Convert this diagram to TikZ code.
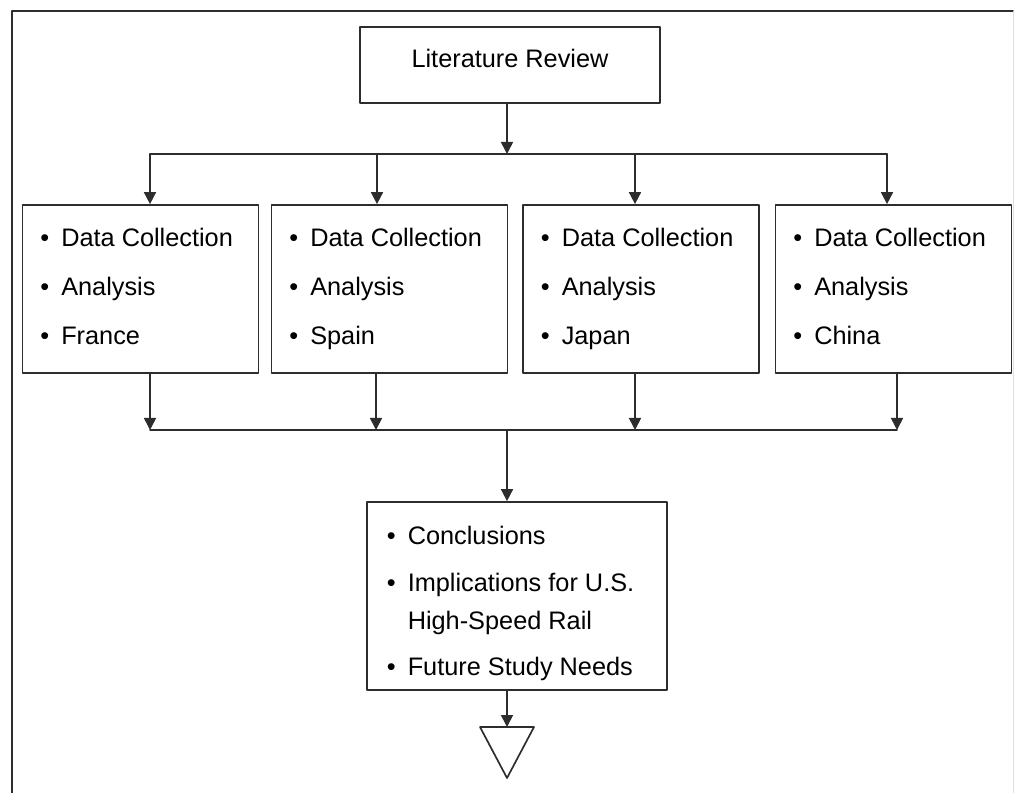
\documentclass[tikz,border=0pt]{standalone}
\usepackage{fontspec}
\setmainfont{Liberation Sans}
\usepackage{tikz}
\usetikzlibrary{arrows.meta, positioning, calc}
\definecolor{lineGray}{RGB}{45,45,45}
\tikzset{every node/.style={font=\fontsize{18}{27}\selectfont}, every path/.style={line cap=round, line join=round}, >={Triangle[length=3mm, width=3mm]}}
\tikzset{
  titlebox/.style={draw=lineGray, line width=1.2pt, minimum width=7.5cm, minimum height=1.9cm, text depth=0.35cm},
  stagebox/.style={draw=lineGray, line width=1.2pt, minimum width=5.9cm, minimum height=4.2cm, inner xsep=0.45cm, text width=5cm, align=flush left},
  sumbox/.style={draw=lineGray, line width=1.2pt, minimum width=7.5cm, minimum height=4.7cm, inner xsep=0.5cm, text width=6.5cm, align=flush left},
  flowline/.style={draw=lineGray, line width=1.2pt},
}
\newcommand{\itm}{\makebox[0.52cm][l]{\textbullet}}

\begin{document}
\begin{tikzpicture}[x=0.025cm, y=-0.025cm]
    \useasboundingbox (0,0) rectangle (1016,793);
    \draw [lineGray, line width=1.4pt] (12,793) -- (12,11) -- (1013,11);
    \draw [gray!25] (1013,11) -- (1013,793);

    \node [titlebox] (lit) at (510,65) {Literature Review};

    \node [stagebox] (b1) at (140.5,289) {\itm Data Collection\\[8pt] \itm Analysis\\[8pt] \itm France\vphantom{p}};
    \node [stagebox] (b2) at (389.5,289) {\itm Data Collection\\[8pt] \itm Analysis\\[8pt] \itm Spain};
    \node [stagebox] (b3) at (641,289) {\itm Data Collection\\[8pt] \itm Analysis\\[8pt] \itm Japan};
    \node [stagebox] (b4) at (893.5,289) {\itm Data Collection\\[8pt] \itm Analysis\\[8pt] \itm China\vphantom{p}};

    \node [sumbox, text height=0.85cm] (sum) at (517,596) {\itm Conclusions\\[6pt] \itm Implications for U.S.\\ \hspace*{0.52cm}High-Speed Rail\\[6pt] \itm Future Study Needs};

    \coordinate (split) at (507,154);
    \coordinate (join) at (507,430);
    \coordinate (tri) at (507,727);

    \draw [flowline, ->] (lit.south -| split) -- (split);
    \draw [flowline] ($(b1.north |- split)+(9.5,0)$) -- ($(b4.north |- split)+(-6.5,0)$);
    \draw [flowline] ($(b1.south |- join)+(9.5,0)$) -- ($(b4.south |- join)+(3.5,0)$);
    \foreach \b/\dt/\db in {b1/9.5/9.5, b2/-12.5/-13.5, b3/-6/-6, b4/-6.5/3.5} {
        \draw [flowline, ->] ($(\b.north |- split)+(\dt,0)$) -- ($(\b.north)+(\dt,0)$);
        \draw [flowline, ->] ($(\b.south)+(\db,0)$) -- ($(\b.south |- join)+(\db,0)$);
    }
    \draw [flowline, ->] (join) -- (join |- sum.north);
    \draw [flowline, ->] (sum.south -| join) -- (tri);
    \draw [flowline] ($(tri)+(-27,0)$) -- ($(tri)+(27,0)$) -- ($(tri)+(0,51)$) -- cycle;
\end{tikzpicture}
\end{document}
